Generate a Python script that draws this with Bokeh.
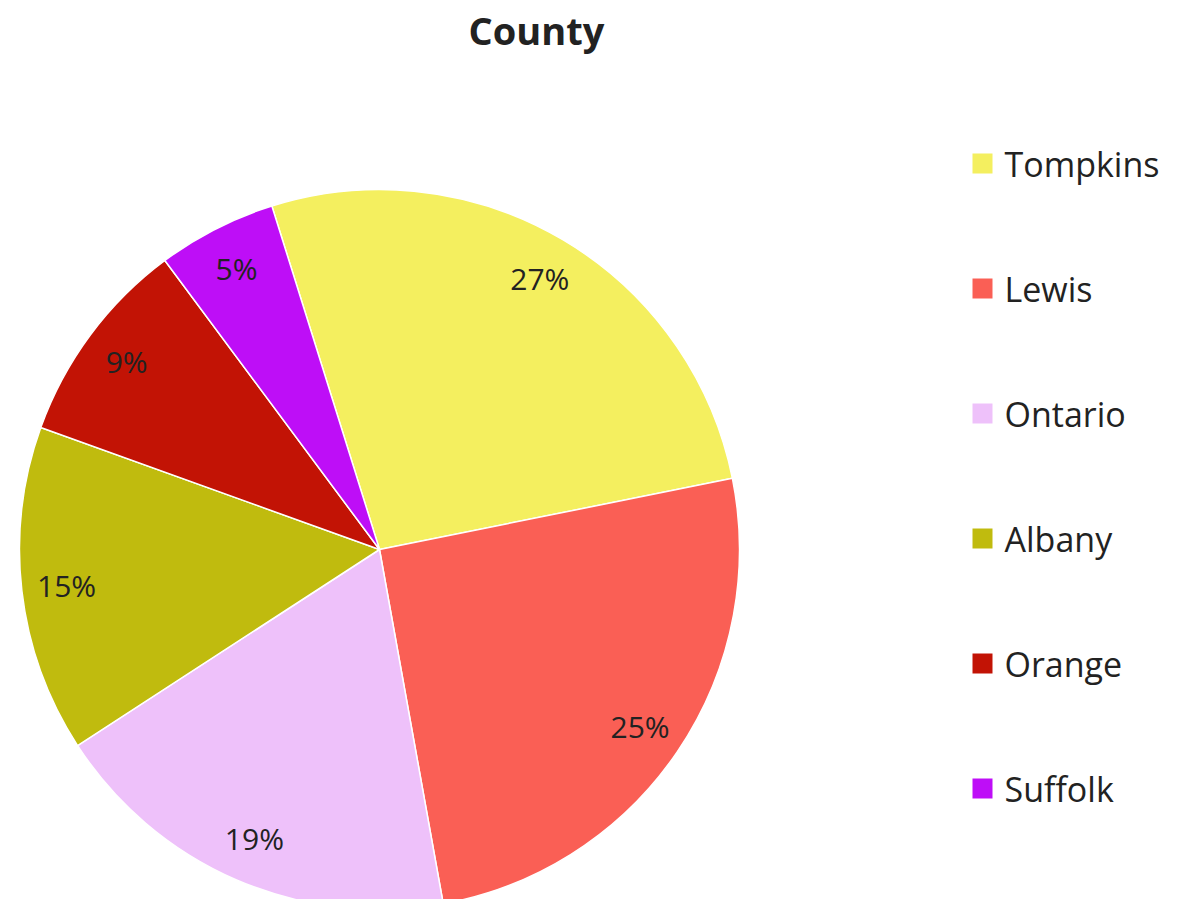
import numpy as np
from bokeh.plotting import figure
from bokeh.models import Range1d, ColumnDataSource
from bokeh.core.properties import value
from bokeh.embed import file_html
from bokeh.resources import INLINE

# ---- data ----
counties = ["Tompkins", "Lewis", "Ontario", "Albany", "Orange", "Suffolk"]
counts = [20, 19, 14, 11, 7, 4]
colors = ["#F4EF5F", "#FA5F55", "#EEC1FA", "#C0BB0E", "#C21305", "#BE0EF7"]
title_text = "County"

W, H = 1165, 899
FONT = "Open Sans"

def px(x):
    return x

def py(y):
    return H - y

cx, cy = px(379), py(549)
R = 360
first_offset_deg = -17.4  # first slice boundary, clockwise from 12 o'clock

vals = np.array(counts, dtype=float)
total = vals.sum()
frac = vals / total
cum = np.concatenate([[0], np.cumsum(frac)])
start = np.pi / 2 - np.deg2rad(first_offset_deg) - cum[:-1] * 2 * np.pi
end = np.pi / 2 - np.deg2rad(first_offset_deg) - cum[1:] * 2 * np.pi
mid = (start + end) / 2
pct = [f"{int(round(f * 100))}%" for f in frac]

src = ColumnDataSource(dict(
    county=counties, start=start, end=end, color=colors,
    lx=cx + 0.875 * R * np.cos(mid), ly=cy + 0.875 * R * np.sin(mid), pct=pct,
))

p = figure(width=W, height=H, x_range=Range1d(0, W), y_range=Range1d(0, H),
           output_backend="svg", toolbar_location=None, min_border=0,
           tools="")
p.axis.visible = False
p.grid.visible = False
p.outline_line_color = None
p.background_fill_color = "white"

p.wedge(x=cx, y=cy, radius=R, start_angle="start", end_angle="end",
        direction="clock", fill_color="color", line_color="white",
        line_width=1.5, source=src)

p.text(x="lx", y="ly", text="pct", source=src, text_font=value(FONT),
       text_font_size="30px", text_color="#222222", text_align="center",
       text_baseline="middle")

# title
p.text(x=[px(536)], y=[py(29)], text=[title_text], text_font=value(FONT),
       text_font_size="38px", text_font_style="bold", text_color="#222222",
       text_align="center", text_baseline="middle")

# legend
idx = np.arange(len(counties))
leg = ColumnDataSource(dict(
    sx=np.full(len(counties), px(982)), tx=np.full(len(counties), px(1004)),
    y=py(163 + 125 * idx), county=counties, color=colors,
))
p.scatter(x="sx", y="y", marker="square", size=20, fill_color="color",
          line_color=None, source=leg)
p.text(x="tx", y="y", text="county", source=leg, text_font=value(FONT),
       text_font_size="34px", text_color="#222222", text_align="left",
       text_baseline="middle")

open("out.html", "w").write(file_html(p, INLINE))
